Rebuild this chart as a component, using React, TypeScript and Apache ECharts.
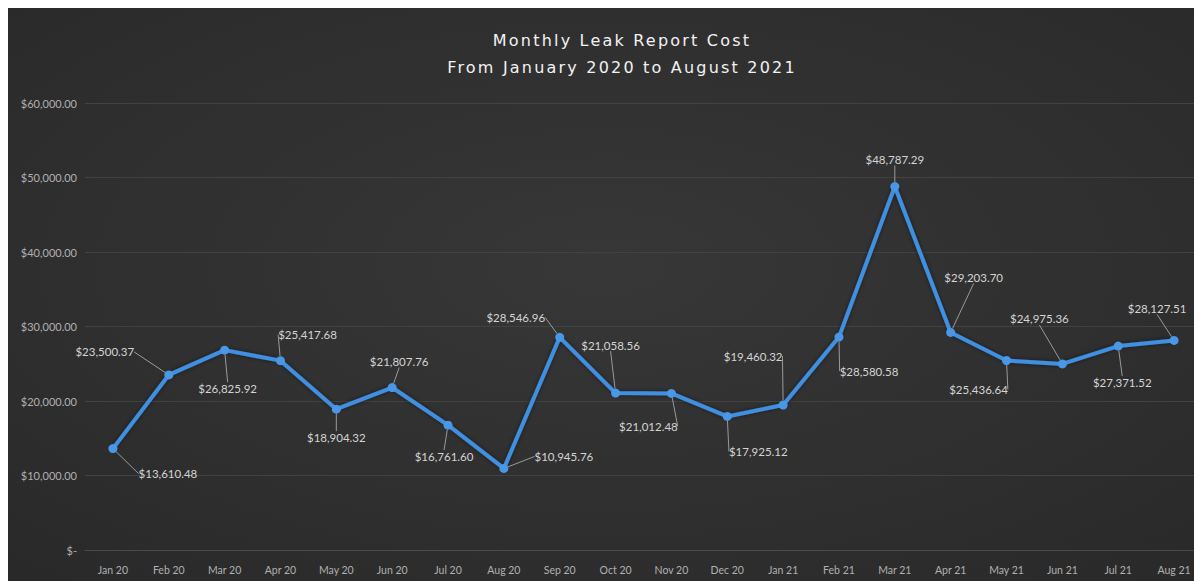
import React, { useEffect, useRef } from "react";
import * as echarts from "echarts";

const months = [
  "Jan 20", "Feb 20", "Mar 20", "Apr 20", "May 20", "Jun 20", "Jul 20", "Aug 20", "Sep 20", "Oct 20",
  "Nov 20", "Dec 20", "Jan 21", "Feb 21", "Mar 21", "Apr 21", "May 21", "Jun 21", "Jul 21", "Aug 21",
];

const costs = [
  13610.48, 23500.37, 26825.92, 25417.68, 18904.32, 21807.76, 16761.6, 10945.76, 28546.96, 21058.56,
  21012.48, 17925.12, 19460.32, 28580.58, 48787.29, 29203.7, 25436.64, 24975.36, 27371.52, 28127.51,
];

const yTicks = [0, 10000, 20000, 30000, 40000, 50000, 60000];

const titleLines = ["Monthly Leak Report Cost", "From January 2020 to August 2021"];

// label placement relative to each point (layout only)
const labelDx = [55, -64, 3, 27, 0, 7, -4, 60, -44, -5, -23, 31, -30, 30, 0, 23, -28, -23, 4, -17];
const labelDy = [25, -23, 38, -26, 28, -26, 31, -12, -20, -48, 33, 35, -49, 34, -27, -55, 29, -45, 36, -32];

const money = (v: number) =>
  v === 0
    ? "$-"
    : "$" + v.toLocaleString("en-US", { minimumFractionDigits: 2, maximumFractionDigits: 2 });

export default function App() {
  const ref = useRef<HTMLDivElement>(null);
  useEffect(() => {
    if (!ref.current) return;
    const chart = echarts.init(ref.current, null, { renderer: "svg" });
    chart.setOption({
      animation: false,
      backgroundColor: {
        type: "radial",
        x: 0.5,
        y: 0.45,
        r: 0.75,
        colorStops: [
          { offset: 0, color: "#383738" },
          { offset: 1, color: "#292929" },
        ],
      },
      title: {
        text: titleLines.join("\n"),
        left: 609,
        top: 14,
        textAlign: "center",
        textStyle: {
          color: "#f2f2f2",
          fontSize: 16,
          fontWeight: "normal",
          fontFamily: "DejaVu Sans",
          lineHeight: 27,
        },
      },
      grid: { left: 77, right: -1, top: 95, bottom: 31, containLabel: false },
      xAxis: {
        type: "category",
        data: months,
        boundaryGap: true,
        axisLine: { show: true, lineStyle: { color: "#4a4a4a" } },
        axisTick: { show: false },
        axisLabel: { color: "#b0b0b0", fontSize: 10.5, margin: 14, fontFamily: "Lato", interval: 0 },
      },
      yAxis: {
        type: "value",
        min: yTicks[0],
        max: yTicks[yTicks.length - 1],
        interval: yTicks[1] - yTicks[0],
        axisLine: { show: false },
        axisTick: { show: false },
        splitLine: { lineStyle: { color: "#424242", width: 1 } },
        axisLabel: {
          color: "#b0b0b0",
          fontSize: 11,
          margin: 8,
          fontFamily: "Lato",
          formatter: (v: number) => money(v),
        },
      },
      series: [
        {
          type: "line",
          data: costs,
          symbol: "circle",
          symbolSize: 9,
          lineStyle: { color: "#3f8fe0", width: 4, shadowColor: "rgba(0,0,0,0.5)", shadowBlur: 4 },
          itemStyle: { color: "#4a97e6" },
          label: {
            show: true,
            position: "inside",
            color: "#d4d4d4",
            fontSize: 11.5,
            fontFamily: "Lato",
            formatter: (p: any) => money(p.value),
          },
          labelLine: { show: true, lineStyle: { color: "#9a9a9a", width: 1 } },
          labelLayout: (p: any) => ({ dx: labelDx[p.dataIndex], dy: labelDy[p.dataIndex] }),
        },
      ],
    });
    // widen the title's letter spacing as in the reference
    ref.current.querySelectorAll("text").forEach((t) => {
      const s = t.textContent || "";
      if (titleLines.includes(s)) (t as SVGTextElement).style.letterSpacing = "2.2px";
    });
    return () => chart.dispose();
  }, []);
  return <div ref={ref} style={{ width: 1194, height: 573 }} />;
}
